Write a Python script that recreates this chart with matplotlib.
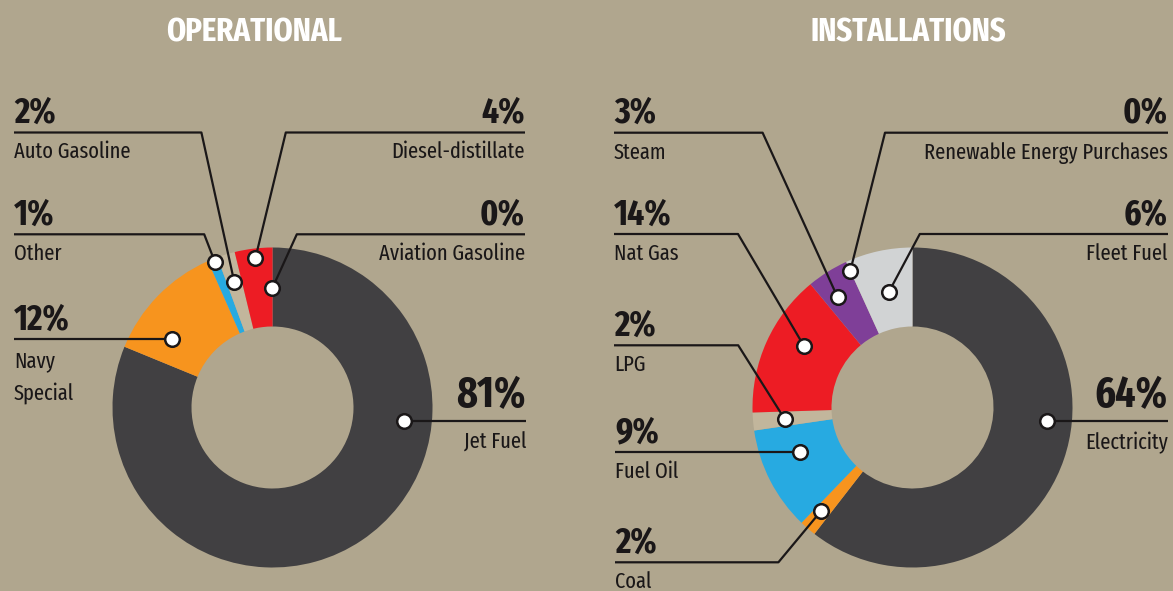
import numpy as np
import matplotlib
matplotlib.use("Agg")
import matplotlib.pyplot as plt

W, H = 1173, 591
BG = "#b0a68e"
TXT = "#1a1718"
FONT = ["Fira Sans Extra Condensed", "Fira Sans Condensed", "Liberation Sans Narrow", "DejaVu Sans"]

# ---------------- data ----------------
op_title = "OPERATIONAL"
op_labels = ["Jet Fuel", "Navy\nSpecial", "Other", "Auto Gasoline", "Diesel-distillate", "Aviation Gasoline"]
op_pct_text = ["81%", "12%", "1%", "2%", "4%", "0%"]
op_values = [81.2, 12.2, 1.0, 1.8, 3.8, 0.0]
op_colors = ["#414042", "#f7941e", "#27aae1", "#c2b69c", "#ed1c24", "#c2b69c"]

in_title = "INSTALLATIONS"
in_labels = ["Electricity", "Coal", "Fuel Oil", "LPG", "Nat Gas", "Steam",
             "Renewable Energy Purchases", "Fleet Fuel"]
in_pct_text = ["64%", "2%", "9%", "2%", "14%", "3%", "0%", "6%"]
in_values = [60.5, 1.7, 10.5, 1.8, 14.5, 4.2, 0.0, 6.8]
in_colors = ["#414042", "#f7941e", "#27aae1", "#c2b69c", "#ed1c24", "#7f3f98",
             "#d1d3d4", "#d1d3d4"]

# ---------------- layout (pixel coords, y measured from top) ----------------
R_OUT, R_IN = 160, 81
op_center = (272.5, 407.5)
in_center = (912.5, 407.5)

op_layout = [
    dict(t=0.328, rf=0.65, side="R", ly=421, elbow=None, x=526, big=True),
    dict(t=0.27, rf=0.52, side="L", ly=339, elbow=None, x=14, big=False),
    dict(t=0.6, rf=0.95, side="L", ly=234.3, elbow=(204.2, 234.3), x=14, big=False),
    dict(t=0.5, rf=0.64, side="L", ly=132.5, elbow=(201.4, 132.5), x=14, big=False),
    dict(t=0.525, rf=0.88, side="R", ly=132.5, elbow=(285.8, 132.5), x=525, big=False),
    dict(t=0.0, rf=0.49, side="R", ly=234.3, elbow=(296.8, 234.3), x=525, big=False),
]
in_layout = [
    dict(t=0.44, rf=0.68, side="R", ly=421, elbow=None, x=1168, big=True),
    dict(t=0.6, rf=0.72, side="L", ly=562.3, elbow=(778.4, 562.3), x=615, big=False),
    dict(t=0.653, rf=0.505, side="L", ly=451.7, elbow=None, x=615, big=False),
    dict(t=0.49, rf=0.6, side="L", ly=345.3, elbow=(738.2, 345.3), x=614, big=False),
    dict(t=0.6, rf=0.553, side="L", ly=234, elbow=(738, 234), x=614, big=False),
    dict(t=0.357, rf=0.66, side="L", ly=132.7, elbow=(762.6, 132.7), x=614, big=False),
    dict(t=0.0, rf=0.875, side="R", ly=132.7, elbow=(885, 132.7), x=1168, big=False),
    dict(t=0.522, rf=0.463, side="R", ly=234, elbow=(919.8, 234), x=1168, big=False),
]

fig = plt.figure(figsize=(W / 100, H / 100), dpi=100, facecolor=BG)
ax = fig.add_axes([0, 0, 1, 1])
ax.set_facecolor(BG)


def Y(y):
    return H - y


def donut(values, colors, center, labels, pct_text, layout, title, title_x):
    cx, cy = center[0], Y(center[1])
    wedges, _ = ax.pie(values, colors=colors, startangle=90, counterclock=False,
                       radius=R_OUT, center=(cx, cy),
                       wedgeprops=dict(width=R_OUT - R_IN, edgecolor="none", linewidth=0))
    ax.text(title_x, Y(42), title, color="white", fontsize=24, fontweight="bold",
            family=FONT, ha="center", va="baseline")
    for w, lab, pct, lay in zip(wedges, labels, pct_text, layout):
        a_start, a_end = w.theta2, w.theta1
        ang = np.radians(a_start - lay["t"] * (a_start - a_end))
        r = R_IN + lay["rf"] * (R_OUT - R_IN)
        dx, dy = cx + r * np.cos(ang), cy + r * np.sin(ang)
        ly = Y(lay["ly"])
        xs, ys = [lay["x"]], [ly]
        if lay["elbow"] is not None:
            xs.append(lay["elbow"][0]); ys.append(Y(lay["elbow"][1]))
        else:
            xs.append(dx); ys.append(ly)
            dy = ly
        xs.append(dx); ys.append(dy)
        ax.plot(xs, ys, color=TXT, lw=1.6, solid_capstyle="butt", zorder=3)
        ax.plot([dx], [dy], "o", ms=10.5, mfc="white", mec=TXT, mew=1.8, zorder=4)
        ha = "left" if lay["side"] == "L" else "right"
        if lay["big"]:
            ax.text(lay["x"], ly + 14, pct, fontsize=31, fontweight="bold", color=TXT,
                    family=FONT, ha=ha, va="baseline")
            ax.text(lay["x"], ly - 28, lab, fontsize=16, color=TXT,
                    family=FONT, ha=ha, va="baseline")
        else:
            ax.text(lay["x"], ly + 9.5, pct, fontsize=26, fontweight="bold", color=TXT,
                    family=FONT, ha=ha, va="baseline")
            lines = lab.split("\n")
            first = 26 if len(lines) == 1 else 28
            for i, s in enumerate(lines):
                ax.text(lay["x"], ly - first - 33 * i, s, fontsize=16, color=TXT,
                        family=FONT, ha=ha, va="baseline")


donut(op_values, op_colors, op_center, op_labels, op_pct_text, op_layout, op_title, 254)
donut(in_values, in_colors, in_center, in_labels, in_pct_text, in_layout, in_title, 908.5)

ax.set_xlim(0, W)
ax.set_ylim(0, H)
ax.set_aspect("auto")
ax.axis("off")
fig.savefig("out.png", dpi=100, facecolor=BG)
